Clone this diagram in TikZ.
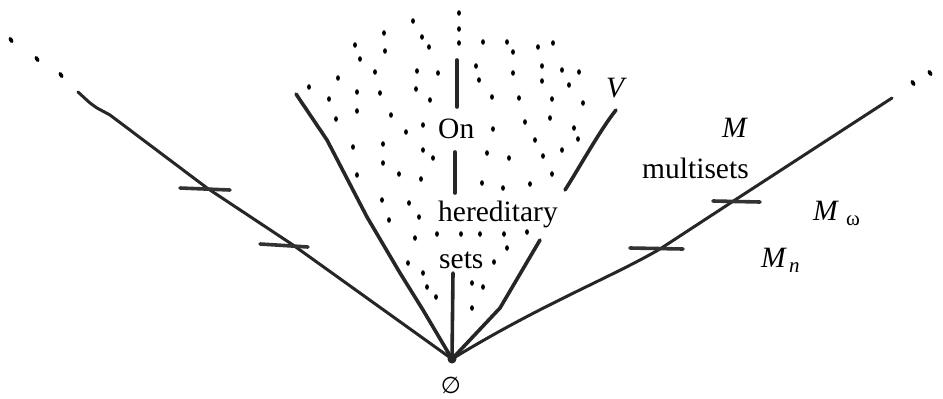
\documentclass[tikz,border=0pt]{standalone}
\usepackage{fontspec}
\setmainfont{Liberation Serif}
\newfontfamily\symfnt{DejaVu Sans}
\begin{document}
\begin{tikzpicture}[x=1pt,y=-1pt,
  outer/.style={line width=3pt,line cap=round,line join=round,draw=black!85},
  cone/.style={line width=3.6pt,line cap=round,line join=round,draw=black!85},
  tickbar/.style={line width=3.6pt,line cap=round,draw=black!80},
  lbl/.style={inner sep=0pt,anchor=base west,font=\rmfamily\fontsize{29.5}{32}\selectfont},
  sub/.style={inner sep=0pt,anchor=base west,font=\rmfamily\fontsize{21}{22}\selectfont},
  dotmark/.style={fill=black}]
\useasboundingbox (0,0) rectangle (943,399);
% apex
\coordinate (O) at (452,359);
\fill[black!85] (O) circle (4.5);
\node[inner sep=0pt,font=\symfnt\fontsize{23}{24}\selectfont] (empty) at (451,385) {∅};
% outer lines
\coordinate (Ltop) at (78,92);
\coordinate (Rtop) at (892,98);
\draw[outer] (Ltop) -- (90,103) -- (97,108) -- (110,115) -- (207,188) -- (293,245) -- (O);
\draw[outer] (O) .. controls (540,305) and (610,278) .. (660,249) -- (735,200) -- (Rtop);
% ticks
\draw[tickbar] (180,188) -- (230,190);
\draw[tickbar] (260,244) -- (308,247);
\draw[tickbar] (713,201) -- (760,202);
\draw[tickbar] (630,248) -- (683,249);
% cone lines
\coordinate (Ctl) at (296,94);
\draw[cone] (Ctl) -- (327,140) -- (367,217) -- (400,273) -- (423,310) -- (O);
\coordinate (Vtop) at (616,110);
\coordinate (Vmid) at (565,190);
\draw[cone] (Vtop) .. controls (600,130) and (578,170) .. (Vmid);
\coordinate (Vlow) at (540,240);
\draw[cone] (Vlow) -- (500,308) -- (O);
% middle line
\coordinate (M1a) at (457,60); \coordinate (M1b) at (457,107);
\coordinate (M2a) at (455,152); \coordinate (M2b) at (455,193);
\coordinate (M3a) at (453,273);
\draw[cone] (M1a) -- (M1b);
\draw[cone] (M2a) -- (M2b);
\draw[cone] (M3a) -- (O);
% dots
\foreach \p in {(413,21),(459,13),(459,29),(459,43),(384,33),(355,45),(385,51),(360,59),(422,37),(429,47),(483,42),(507,42),(513,52),(538,47),(553,43),(375,72),(417,71),(438,73),(338,78),(309,87),(476,66),(479,80),(513,73),(542,66),(542,81),(562,70),(579,72),(569,85),(329,99),(357,92),(357,111),(380,93),(416,89),(430,100),(492,97),(519,98),(552,99),(583,103),(336,119),(391,115),(423,125),(406,132),(493,129),(525,122),(550,118),(574,128),(578,139),(353,147),(383,144),(423,150),(433,158),(487,153),(509,158),(535,140),(543,156),(562,150),(357,175),(383,163),(399,174),(421,179),(482,183),(503,188),(530,184),(552,174),(382,200),(409,203),(389,220),(419,217),(415,238),(437,234),(461,234),(480,234),(504,234),(527,232),(507,248),(494,262),(408,263),(423,273),(427,287),(436,297),(472,283),(483,287),(472,308)}
  \fill[dotmark] \p ellipse (1.9 and 2.8);
\foreach \p in {(11,40),(37,59),(61,75),(913,83),(930,73)}
  \fill[dotmark,rotate around={30:\p}] \p ellipse (2 and 3.2);
% labels
\node[lbl] (on) at (438,138) {On};
\node[lbl] (her) at (438,221) {hereditary};
\node[lbl] (sets) at (439,268) {sets};
\node[lbl] (V) at (606,97) {\textit{V}};
\node[lbl] (M) at (722,137) {\textit{M}};
\node[lbl] (multi) at (642,178) {multisets};
\node[lbl] (Mw) at (813,220) {\textit{M}};
\node[sub] (w) at (846,225) {ω};
\node[lbl] (Mn) at (761,267) {\textit{M}};
\node[sub] (n) at (789,272) {\textit{n}};
\end{tikzpicture}
\end{document}
